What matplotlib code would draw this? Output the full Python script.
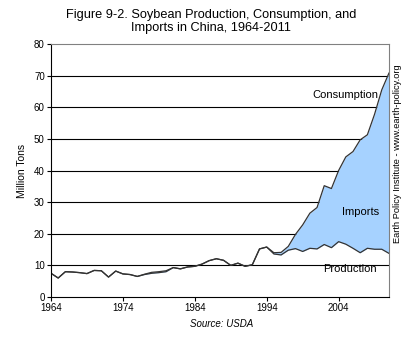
import matplotlib
matplotlib.use("Agg")
import matplotlib.pyplot as plt

plt.rcParams['font.family'] = ['Liberation Sans', 'DejaVu Sans']

# Soybean production and consumption in China, million tons
years = list(range(1964, 2012))
production = [7.5, 6.0, 8.0, 7.9, 7.7, 7.4, 8.4, 8.3, 6.3, 8.2,   # 1964-1973
              7.3, 7.1, 6.5, 7.1, 7.5, 7.7, 8.0, 9.3, 8.9, 9.5,   # 1974-1983
              9.7, 10.4, 11.5, 12.1, 11.6, 10.0, 10.7, 9.7, 10.2, 15.2,   # 1984-1993
              15.8, 13.6, 13.3, 14.8, 15.3, 14.4, 15.4, 15.2, 16.6, 15.6,  # 1994-2003
              17.5, 16.7, 15.4, 14.0, 15.4, 15.1, 15.1, 13.8]              # 2004-2011
consumption = [7.5, 6.0, 8.0, 7.9, 7.7, 7.4, 8.4, 8.3, 6.3, 8.2,
               7.3, 7.1, 6.5, 7.2, 7.8, 8.0, 8.3, 9.3, 8.9, 9.5,
               9.7, 10.4, 11.5, 12.1, 11.6, 10.0, 10.7, 9.7, 10.2, 15.2,
               15.8, 14.0, 14.1, 16.0, 19.8, 22.8, 26.5, 28.3, 35.2, 34.3,
               40.0, 44.3, 46.0, 49.7, 51.3, 57.8, 65.5, 70.8]
xticks = [1964, 1974, 1984, 1994, 2004]

fig = plt.figure(figsize=(4.06, 3.37), dpi=100)
ax = fig.add_axes([0.1256, 0.1187, 0.8324, 0.7507])

ax.fill_between(years, production, consumption, color='#a6d2ff', lw=0)
ax.plot(years, consumption, color='#333333', lw=0.9)
ax.plot(years, production, color='#333333', lw=0.9)

ax.set_xlim(1964, 2011)
ax.set_ylim(0, 80)
ax.set_yticks(range(0, 81, 10))
ax.set_xticks(xticks)
for v in range(10, 80, 10):
    ax.axhline(v, color='black', lw=0.8, zorder=0)
ax.tick_params(labelsize=7, length=3, width=0.8, pad=1.5)
for s in ['top', 'right']:
    ax.spines[s].set_color('#808080')
for s in ['left', 'bottom']:
    ax.spines[s].set_color('black')

ax.set_ylabel('Million Tons', fontsize=7.5, labelpad=5)

ax.text(2005.0, 64, 'Consumption', fontsize=8, ha='center', va='center')
ax.text(2007.1, 27, 'Imports', fontsize=8, ha='center', va='center')
ax.text(2005.6, 9, 'Production', fontsize=8, ha='center', va='center')

fig.text(0.52, 0.937, 'Figure 9-2. Soybean Production, Consumption, and\nImports in China, 1964-2011',
         fontsize=9.2, ha='center', va='center', linespacing=1.15)
fig.text(0.545, 0.038, 'Source: USDA', fontsize=7, style='italic', ha='center', va='center')
fig.text(0.98, 0.543, 'Earth Policy Institute - www.earth-policy.org', fontsize=6.7,
         rotation=90, ha='center', va='center')

fig.savefig('out.png', dpi=100)
